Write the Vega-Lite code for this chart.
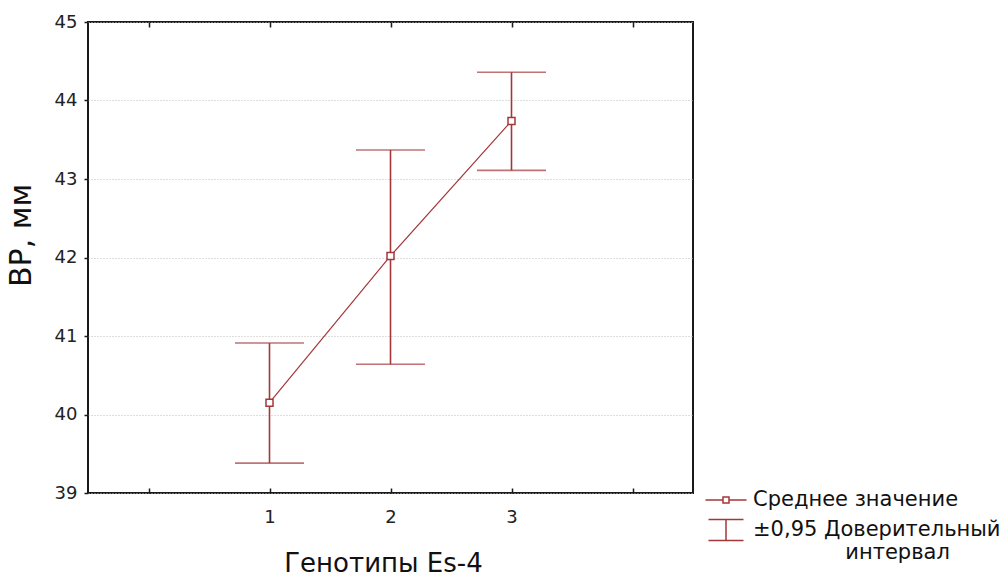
{
  "$schema": "https://vega.github.io/schema/vega-lite/v6.json",
  "width": 605,
  "height": 471,
  "autosize": {"type": "none"},
  "padding": {"left": 88, "top": 22, "right": 310, "bottom": 83},
  "background": "white",
  "config": {
    "view": {"stroke": "#1a1a1a", "strokeWidth": 2},
    "axis": {
      "tickColor": "#1a1a1a",
      "tickWidth": 1.5,
      "domain": false
    }
  },
  "data": {
    "values": [
      {"g": 1, "mean": 40.15, "lo": 39.38, "hi": 40.91},
      {"g": 2, "mean": 42.02, "lo": 40.64, "hi": 43.37},
      {"g": 3, "mean": 43.74, "lo": 43.11, "hi": 44.36}
    ]
  },
  "layer": [
    {
      "mark": {"type": "rule", "color": "#a4373a", "strokeWidth": 1.6},
      "encoding": {
        "x": {
          "field": "g",
          "type": "quantitative",
          "scale": {"domain": [-0.5, 4.5], "nice": false, "zero": false},
          "axis": {
            "orient": "bottom",
            "values": [0, 1, 2, 3, 4],
            "format": "d",
            "labelExpr": "datum.value >= 1 && datum.value <= 3 ? datum.label : ''",
            "labelFont": "DejaVu Sans",
            "labelFontSize": 18,
            "labelColor": "#222",
            "tickSize": -5,
            "labelPadding": 20,
            "grid": false,
            "title": "Генотипы Es-4",
            "titleFont": "DejaVu Sans",
            "titleFontSize": 26,
            "titleFontWeight": "normal",
            "titleColor": "#111",
            "titleBaseline": "alphabetic",
            "titleX": 295,
            "titleY": 78
          }
        },
        "y": {
          "field": "lo",
          "type": "quantitative",
          "scale": {"domain": [39, 45], "nice": false, "zero": false},
          "axis": {
            "values": [39, 40, 41, 42, 43, 44, 45],
            "format": "d",
            "labelFont": "DejaVu Sans",
            "labelFontSize": 18,
            "labelColor": "#222",
            "tickSize": 4,
            "labelPadding": 7,
            "labelFlush": false,
            "grid": true,
            "gridColor": "#bdbdbd",
            "gridDash": [1, 2],
            "gridWidth": 1,
            "title": "ВР, мм",
            "titleFont": "DejaVu Sans",
            "titleFontSize": 30,
            "titleFontWeight": "normal",
            "titleColor": "#111",
            "titleAngle": 270,
            "titleAlign": "center",
            "titleBaseline": "alphabetic",
            "titleX": -58,
            "titleY": 213
          }
        },
        "y2": {"field": "hi"}
      }
    },
    {
      "mark": {"type": "tick", "orient": "horizontal", "color": "#a4373a", "size": 69, "thickness": 1.6},
      "encoding": {
        "x": {
          "field": "g",
          "type": "quantitative",
          "axis": {
            "orient": "top",
            "values": [0, 1, 2, 3, 4],
            "labels": false,
            "tickSize": -5,
            "grid": false,
            "title": null
          }
        },
        "y": {"field": "lo", "type": "quantitative"}
      }
    },
    {
      "mark": {"type": "tick", "orient": "horizontal", "color": "#a4373a", "size": 69, "thickness": 1.6},
      "encoding": {
        "x": {"field": "g", "type": "quantitative", "axis": null},
        "y": {"field": "hi", "type": "quantitative"}
      }
    },
    {
      "mark": {"type": "line", "color": "#a4373a", "strokeWidth": 1.2},
      "encoding": {
        "x": {"field": "g", "type": "quantitative", "axis": null},
        "y": {"field": "mean", "type": "quantitative"}
      }
    },
    {
      "mark": {"type": "point", "shape": "square", "filled": true, "fill": "white", "stroke": "#a4373a", "strokeWidth": 1.5, "size": 49, "opacity": 1},
      "encoding": {
        "x": {"field": "g", "type": "quantitative", "axis": null},
        "y": {"field": "mean", "type": "quantitative"}
      }
    },
    {
      "mark": {"type": "point", "opacity": 0},
      "encoding": {
        "x": {"field": "g", "type": "quantitative", "axis": null},
        "y": {"field": "mean", "type": "quantitative"},
        "shape": {
          "datum": "Среднее значение",
          "scale": {
            "domain": ["Среднее значение", "±0,95 Доверительный интервал"],
            "range": [
              "M-2.05,0H-0.3M0.3,0H2.05M-0.3,-0.3H0.3V0.3H-0.3Z",
              "M-1.75,-1.05H1.75M0,-1.05V1.05M-1.75,1.05H1.75"
            ]
          },
          "legend": {
            "orient": "none",
            "legendX": 627,
            "legendY": 467,
            "title": null,
            "symbolSize": 400,
            "symbolStrokeColor": "#a4373a",
            "symbolFillColor": "white",
            "symbolStrokeWidth": 1.5,
            "symbolOpacity": 1,
            "labelFont": "DejaVu Sans",
            "labelFontSize": 21,
            "labelColor": "#111",
            "labelOffset": 16,
            "rowPadding": 6,
            "labelLimit": 400,
            "labelExpr": "datum.label == 'Среднее значение' ? datum.label : ['±0,95 Доверительный', '\u2800\u2800\u2800\u2800\u2800\u2800интервал']"
          }
        }
      }
    }
  ],
  "resolve": {"axis": {"x": "independent"}}
}
